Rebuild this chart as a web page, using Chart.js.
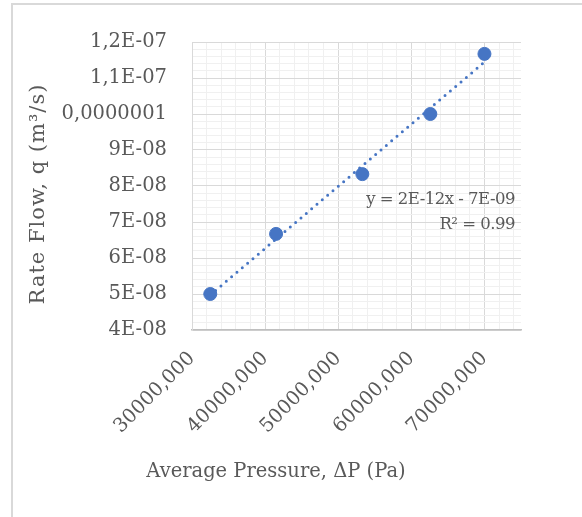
<!DOCTYPE html>
<html>
<head>
<meta charset="utf-8">
<script src="https://cdn.jsdelivr.net/npm/chart.js@4.4.0/dist/chart.umd.min.js"></script>
<style>
  html, body { margin: 0; padding: 0; background: #fff; overflow: hidden; }
  #frame { position: absolute; left: 11px; top: 3px; width: 700px; height: 700px; border: 2px solid #d9d9d9; }
  #wrap { position: absolute; left: 0; top: 0; width: 582px; height: 517px; }
</style>
</head>
<body>
<div id="frame"></div>
<div id="wrap"><canvas id="chart"></canvas></div>
<script>
// values
const pressure = [32500000, 41500000, 53300000, 62600000, 70000000];
const rateFlow = [5.0e-8, 6.67e-8, 8.33e-8, 1.0e-7, 1.167e-7];

const xTickLabels = ["30000,000", "40000,000", "50000,000", "60000,000", "70000,000"];
const yTickLabels = ["4E-08", "5E-08", "6E-08", "7E-08", "8E-08", "9E-08", "0,0000001", "1,1E-07", "1,2E-07"];
const trendText = ["y = 2E-12x - 7E-09", "R\u00B2 = 0.99"];
const xTitle = "Average Pressure, \u0394P (Pa)";
const yTitle = "Rate Flow, q (m\u00B3/s)";

const X_MIN = 30000000, X_MAX = 75000000, X_MAJOR = 10000000, X_MINOR_PER = 5;
const Y_MIN = 4e-8, Y_MAX = 1.2e-7, Y_MINOR_PER = 5;

const textColor = "#595959";
const blue = "#4675C4";
const fontFamily = "'DejaVu Serif', serif";

// linear trendline (least squares)
const n = pressure.length;
const mx = pressure.reduce((a, b) => a + b, 0) / n;
const my = rateFlow.reduce((a, b) => a + b, 0) / n;
let sxy = 0, sxx = 0;
for (let i = 0; i < n; i++) {
  sxy += (pressure[i] - mx) * (rateFlow[i] - my);
  sxx += (pressure[i] - mx) * (pressure[i] - mx);
}
const slope = sxy / sxx;
const intercept = my - slope * mx;
const trend = [pressure[0], pressure[n - 1]].map(x => ({ x: x, y: intercept + slope * x }));

const points = pressure.map((x, i) => ({ x: x, y: rateFlow[i] }));

function gridColor(ctx) {
  return ctx.tick && ctx.tick.isMain ? "#d9d9d9" : "#f0f0f0";
}

const textPlugin = {
  id: "texts",
  afterDraw(chart) {
    const ctx = chart.ctx;
    const area = chart.chartArea;
    ctx.save();
    ctx.fillStyle = textColor;

    // equation label
    ctx.font = "16.5px " + fontFamily;
    ctx.letterSpacing = "-0.5px";
    ctx.textAlign = "right";
    ctx.textBaseline = "middle";
    ctx.fillText(trendText[0], area.right - 6, 200);
    ctx.fillText(trendText[1], area.right - 6, 225);

    // axis titles
    ctx.font = "19.5px " + fontFamily;
    ctx.letterSpacing = "0px";
    ctx.textAlign = "center";
    ctx.fillText(xTitle, 276, 472);

    ctx.font = "21px " + fontFamily;
    ctx.letterSpacing = "1px";
    ctx.translate(39, (area.top + area.bottom) / 2 + 8);
    ctx.rotate(-Math.PI / 2);
    ctx.fillText(yTitle, 0, 0);
    ctx.restore();
  }
};

new Chart(document.getElementById("chart"), {
  type: "scatter",
  data: {
    datasets: [
      {
        data: points,
        backgroundColor: blue,
        borderColor: blue,
        pointRadius: 6.5,
        pointHoverRadius: 6.5,
        order: 0
      },
      {
        data: trend,
        showLine: true,
        pointRadius: 0,
        borderColor: blue,
        borderWidth: 3,
        borderDash: [0, 7],
        borderCapStyle: "round",
        order: 1
      }
    ]
  },
  options: {
    responsive: true,
    maintainAspectRatio: false,
    animation: false,
    layout: { padding: { left: 0, top: 42, right: 61, bottom: 0 } },
    plugins: { legend: { display: false }, tooltip: { enabled: false } },
    scales: {
      x: {
        type: "linear",
        min: X_MIN,
        max: X_MAX,
        afterBuildTicks(scale) {
          const step = X_MAJOR / X_MINOR_PER;
          const ticks = [];
          for (let i = 0; X_MIN + i * step < X_MAX; i++) {
            ticks.push({ value: X_MIN + i * step, isMain: i % X_MINOR_PER === 0 });
          }
          scale.ticks = ticks;
        },
        afterFit(scale) { scale.height = 187; },
        grid: { color: gridColor, lineWidth: 1, drawTicks: false },
        border: { color: "#bfbfbf", width: 1.5 },
        ticks: {
          autoSkip: false,
          minRotation: 45,
          maxRotation: 45,
          padding: 17,
          color: textColor,
          font: { family: fontFamily, size: 19.5 },
          callback(value, index, ticks) {
            const t = ticks[index];
            return t.isMain ? xTickLabels[index / X_MINOR_PER] : "";
          }
        }
      },
      y: {
        type: "linear",
        min: Y_MIN,
        max: Y_MAX,
        afterBuildTicks(scale) {
          const total = (yTickLabels.length - 1) * Y_MINOR_PER;
          const ticks = [];
          for (let i = 0; i <= total; i++) {
            ticks.push({ value: Y_MIN + i * (Y_MAX - Y_MIN) / total, isMain: i % Y_MINOR_PER === 0 });
          }
          scale.ticks = ticks;
        },
        afterFit(scale) { scale.width = 192; },
        grid: { color: gridColor, lineWidth: 1, drawTicks: false },
        border: { color: "#d9d9d9", width: 1 },
        ticks: {
          autoSkip: false,
          padding: 25,
          color: textColor,
          font: { family: fontFamily, size: 19.5 },
          callback(value, index, ticks) {
            const t = ticks[index];
            return t.isMain ? yTickLabels[index / Y_MINOR_PER] : "";
          }
        }
      }
    }
  },
  plugins: [textPlugin]
});
</script>
</body>
</html>
